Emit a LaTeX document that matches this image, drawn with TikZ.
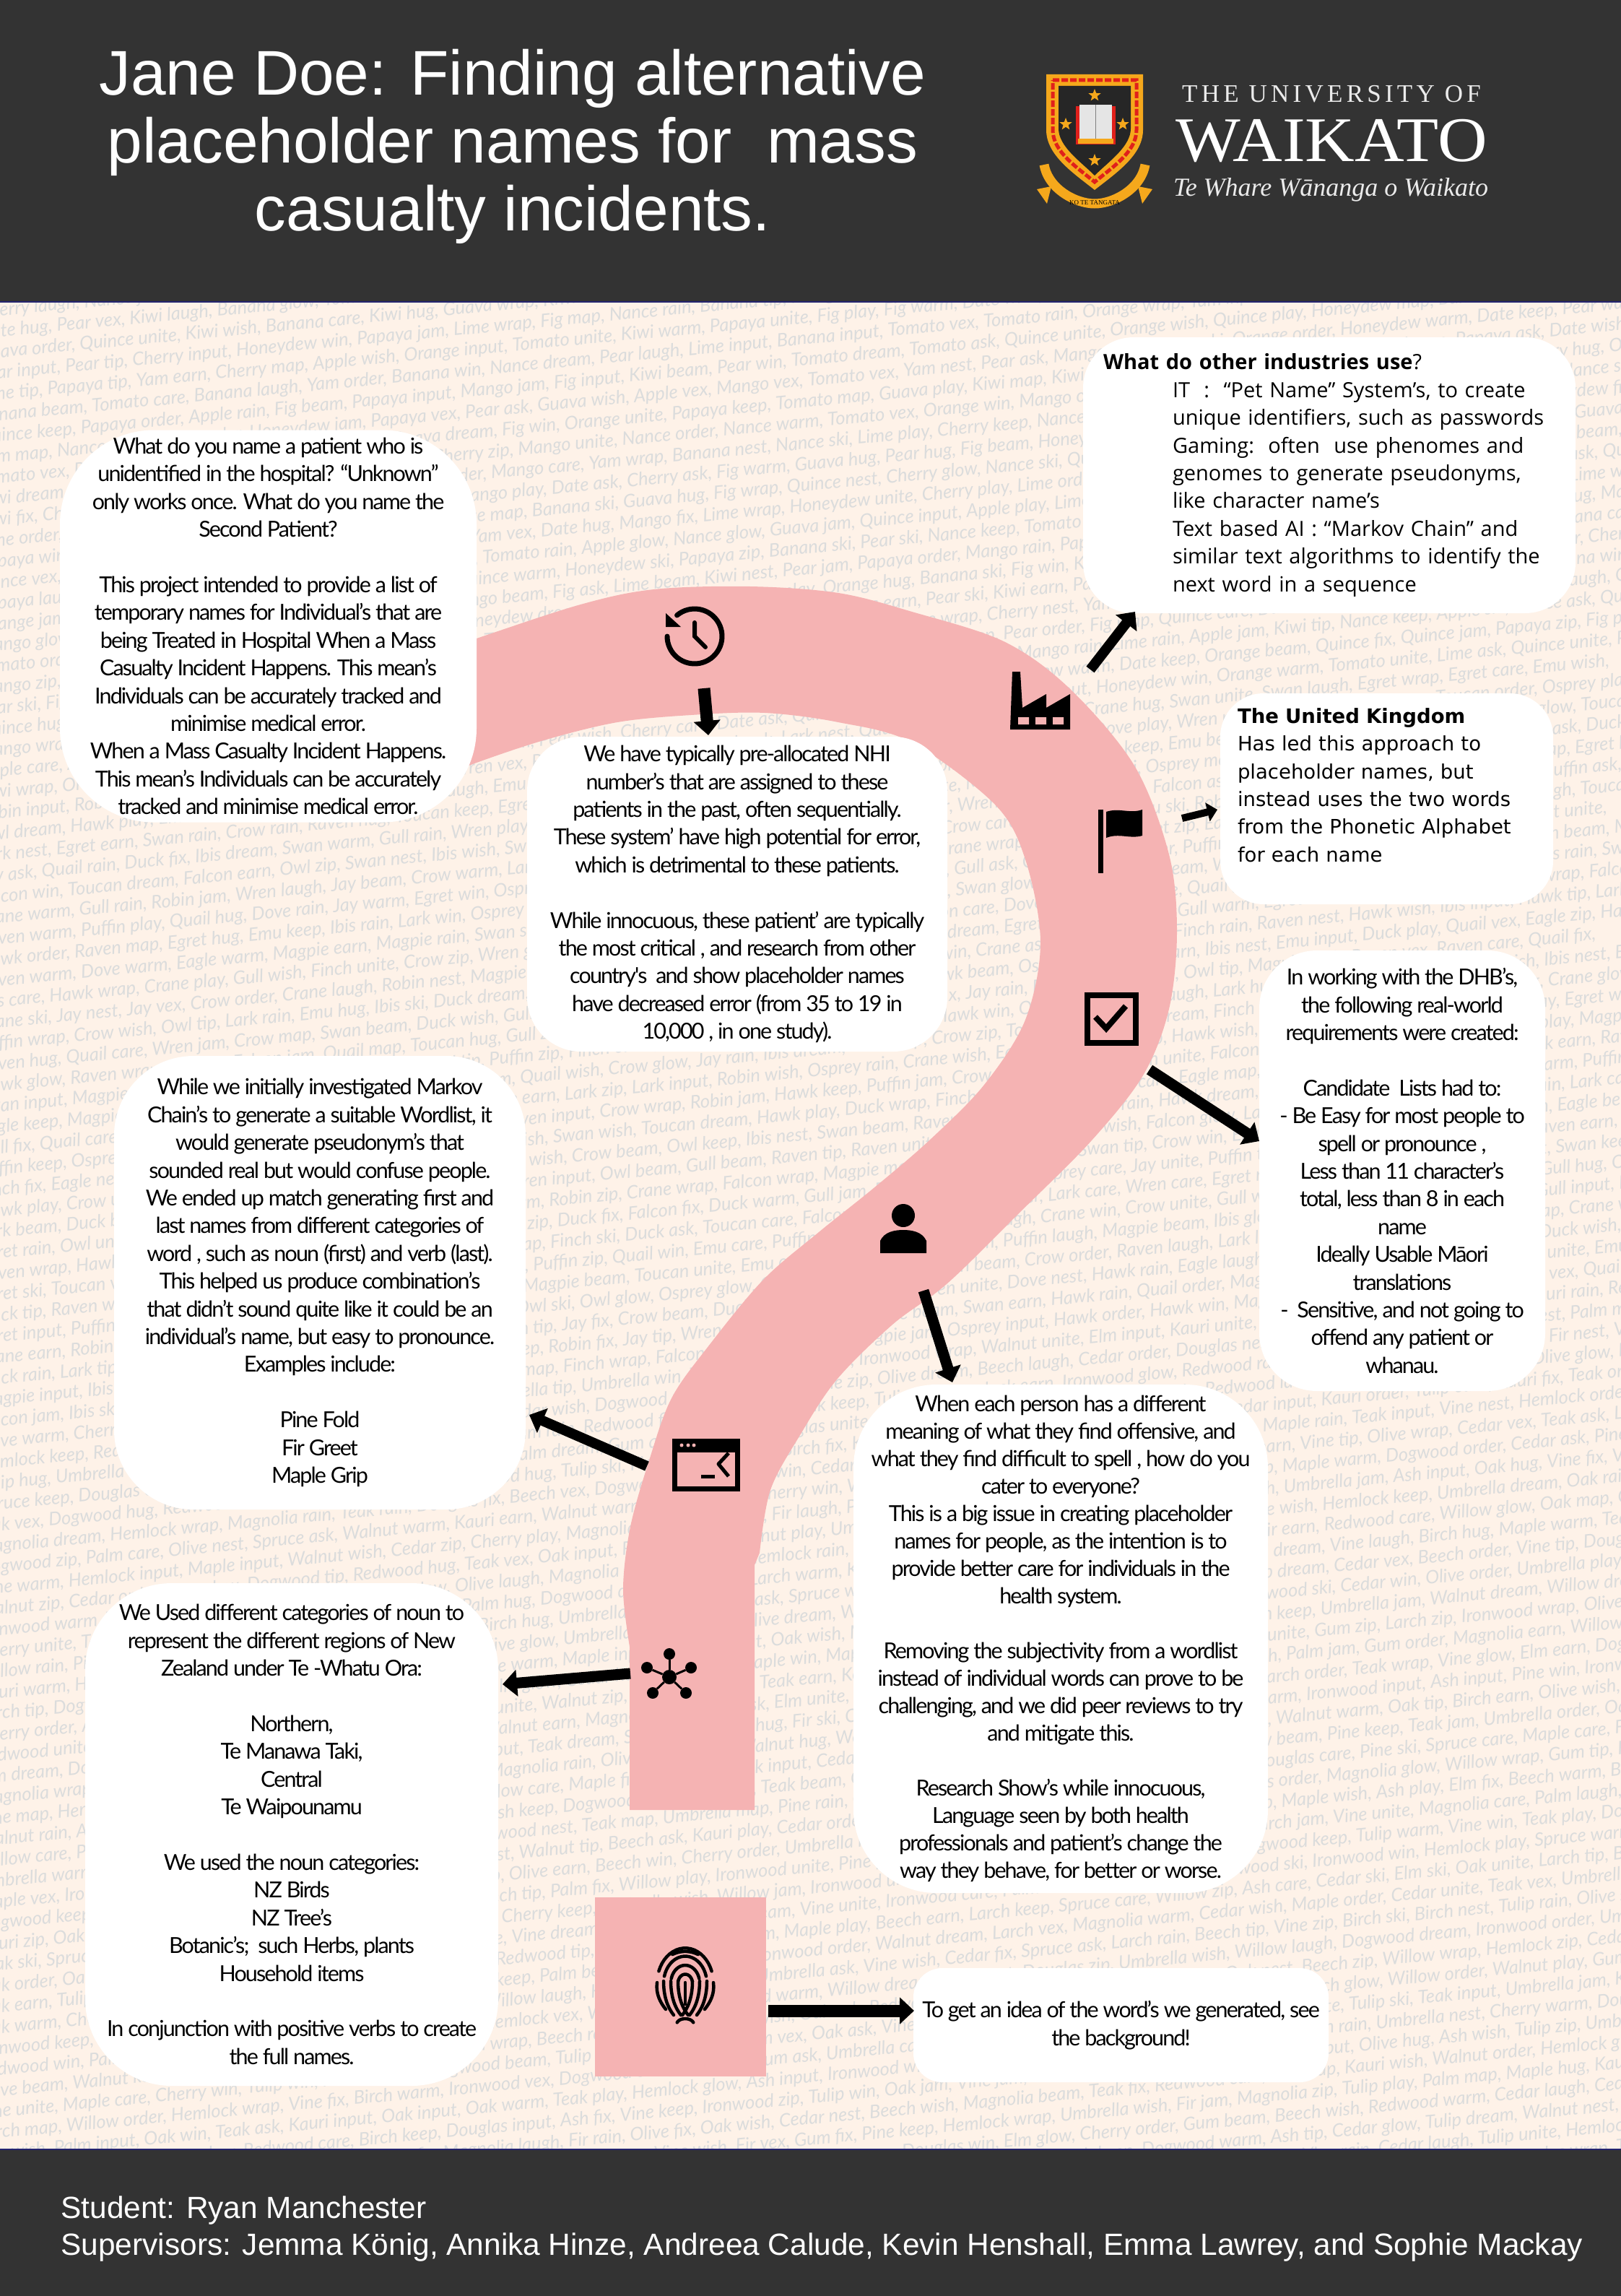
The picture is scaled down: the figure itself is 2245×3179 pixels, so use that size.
\documentclass[tikz,border=0pt]{standalone}
\usepackage{fontspec}
\usetikzlibrary{arrows.meta,shapes.geometric}
\setmainfont{Liberation Sans}
\newfontfamily\bgfont{Lato}
\newfontfamily\bodyfont[LetterSpace=-6.2]{Lato}
\newfontfamily\wideboxfont{Open Sans}
\newfontfamily\ukfont{DejaVu Sans}
\newfontfamily\logofont{Liberation Serif}
\newfontfamily\logospaced[LetterSpace=15]{Liberation Serif}
\definecolor{darkband}{HTML}{333333}
\definecolor{paper}{HTML}{FEF2E8}
\definecolor{namegrey}{HTML}{DBDCDC}
\definecolor{roadpink}{HTML}{F5B3B3}
\definecolor{crestgold}{HTML}{F5A81C}
\definecolor{crestred}{HTML}{E0201B}
\pgfmathdeclarerandomlist{fruit}{{Tomato}{Banana}{Kiwi}{Mango}{Orange}{Lime}{Quince}{Yam}{Fig}{Papaya}{Guava}{Nance}{Pear}{Apple}{Date}{Cherry}{Honeydew}}
\pgfmathdeclarerandomlist{birds}{{Crow}{Finch}{Hawk}{Robin}{Egret}{Dove}{Wren}{Eagle}{Emu}{Crane}{Jay}{Duck}{Quail}{Osprey}{Raven}{Toucan}{Owl}{Falcon}{Magpie}{Puffin}{Gull}{Ibis}{Swan}{Lark}}
\pgfmathdeclarerandomlist{trees}{{Kauri}{Olive}{Oak}{Ash}{Dogwood}{Redwood}{Cherry}{Walnut}{Teak}{Beech}{Spruce}{Hemlock}{Gum}{Ironwood}{Larch}{Maple}{Umbrella}{Vine}{Pine}{Birch}{Magnolia}{Tulip}{Willow}{Cedar}{Elm}{Fir}{Douglas}{Palm}}
\pgfmathdeclarerandomlist{verbs}{{warm}{dream}{wrap}{hug}{jam}{glow}{care}{order}{earn}{zip}{wish}{tip}{map}{laugh}{beam}{nest}{input}{vex}{ski}{keep}{rain}{play}{ask}{fix}{win}{unite}}
\newcommand{\namerow}[1]{\foreach \k in {1,...,20}{\pgfmathrandomitem{\wa}{#1}\pgfmathrandomitem{\wb}{verbs}\wa\ \wb,\ }}
\tikzset{
	bodytext/.style={font=\bodyfont\fontsize{30.5}{38.4}\selectfont},
	textbox/.style={fill=white,rounded corners=#1,inner sep=0pt,align=center,bodytext},
	namerowstyle/.style={anchor=west,rotate=5.4,inner sep=0pt,text=namegrey,font=\bgfont\itshape\fontsize{25.5}{25.5}\selectfont},
	bigarrow/.style={-{Triangle[length=20pt,width=36pt]},line width=#1,black},
	iconline/.style={line width=#1,black,line cap=round,line join=round},
	crestrest/.style={star,star points=5,star point ratio=2.4,fill=crestgold,inner sep=0pt,minimum size=18pt},
}
\begin{document}
\begin{tikzpicture}[x=1pt,y=-1pt]
	\useasboundingbox (0,0) rectangle (2245,3179);
	\fill[paper] (0,0) rectangle (2245,3179);
	% names in the background
	\pgfmathsetseed{11}
	\begin{scope}
		\clip (0,418) rectangle (2245,2976);
		\foreach \r in {0,...,95}{
			\ifnum\r<24 \def\kind{fruit}\else\ifnum\r<54 \def\kind{birds}\else\def\kind{trees}\fi\fi
			\node[namerowstyle] (row\r) at (-30,{433+29*\r}) {\namerow{\kind}};
		}
	\end{scope}
	\fill[darkband] (0,0) rectangle (2245,418);
	\fill[darkband] (0,2976) rectangle (2245,3179);
	\draw[line width=2pt,color=darkband!70!blue] (0,418) -- (2245,418);
	\draw[line width=2pt,color=darkband!70!blue] (0,2976) -- (2245,2976);
	% the road
	\fill[roadpink] plot[smooth,tension=.55] coordinates {(600,905) (660,884) (804,837) (906,816) (1039,812) (1161,821) (1263,847) (1390,888) (1481,953) (1571,1060) (1619,1183) (1630,1290) (1619,1397) (1583,1489) (1511,1580) (1411,1680) (1312,1777) (1236,1834) (1159,1910) (1108,1987) (1067,2063) (1052,2150)}
		-- (1045,2167) -- (1045,2506) -- (872,2506) -- (872,2280)
		-- plot[smooth,tension=.55] coordinates {(872,2280) (863,2200) (873,2114) (899,2022) (930,1936) (981,1864) (1057,1772) (1134,1706) (1210,1645) (1287,1579) (1363,1502) (1420,1412) (1441,1305) (1420,1190) (1378,1114) (1263,1028) (1161,1000) (1059,987) (957,990) (855,1000) (753,1025) (660,1056) (600,1080)}
		-- cycle;
	\fill[roadpink] (824,2627) rectangle (1061,2875);
	% title
	\node[text=white,align=center,font=\fontsize{87.4}{94}\selectfont] (title) at (710,203) {Jane Doe: Finding alternative\\placeholder names for\ \ mass\\casualty incidents.};
	\node[text=white,align=left,anchor=west,font=\fontsize{42.4}{51}\selectfont] (credits) at (81,3086) {Student: Ryan Manchester\\Supervisors: Jemma König, Annika Hinze, Andreea Calude, Kevin Henshall, Emma Lawrey, and Sophie Mackay};
	% crest
	\fill[crestgold] (1449,103) -- (1583,103) -- (1583,180) .. controls (1583,215) and (1545,240) .. (1516,263) .. controls (1487,240) and (1449,215) .. (1449,180) -- cycle;
	\draw[crestred,line width=5pt,dash pattern=on 9pt off 3pt] (1458,111) -- (1574,111) -- (1574,180) .. controls (1574,210) and (1540,232) .. (1516,252) .. controls (1492,232) and (1458,210) .. (1458,180) -- cycle;
	\fill[black!85] (1466,119) -- (1566,119) -- (1566,178) .. controls (1566,203) and (1535,224) .. (1516,243) .. controls (1497,224) and (1466,203) .. (1466,178) -- cycle;
	\draw[crestgold,line width=13pt] (1446,228) .. controls (1452,262) and (1490,282) .. (1516,282) .. controls (1542,282) and (1580,262) .. (1586,228);
	\fill[crestgold] (1436,262) -- (1456,258) -- (1450,282) -- cycle;
	\fill[crestgold] (1596,262) -- (1576,258) -- (1582,282) -- cycle;
	\node[crestrest] (star1) at (1516,132) {};
	\node[crestrest] (star2) at (1476,172) {};
	\node[crestrest] (star3) at (1555,172) {};
	\node[crestrest] (star4) at (1516,222) {};
	\fill[crestred] (1490,147) rectangle (1545,200);
	\fill[white!90!black] (1495,145) rectangle (1540,192);
	\fill[crestgold] (1493,192) rectangle (1542,199);
	\draw[black!50,line width=1pt] (1517.5,145) -- (1517.5,192);
	\node[font=\logofont\fontsize{9}{9}\selectfont,text=black] (motto) at (1516,281) {KO TE TANGATA};
	\node[text=white!92!black,font=\logospaced\fontsize{35}{35}\selectfont] (uni1) at (1844,130) {THE UNIVERSITY OF};
	\node[text=white,xscale=1.08,transform shape,font=\logofont\fontsize{88}{88}\selectfont] (uni2) at (1844,195) {WAIKATO};
	\node[text=white!92!black,font=\logofont\itshape\fontsize{36}{36}\selectfont] (uni3) at (1843,263) {Te Whare Wānanga o Waikato};
	% boxes
	\node[textbox=130pt,minimum width=577pt,minimum height=543pt] (patient) at (371.5,867) {What do you name a patient who is\\unidentified in the hospital? “Unknown”\\only works once. What do you name the\\Second Patient?\\~\\This project intended to provide a list of\\temporary names for Individual’s that are\\being Treated in Hospital When a Mass\\Casualty Incident Happens. This mean’s\\Individuals can be accurately tracked and\\minimise medical error.\\When a Mass Casualty Incident Happens.\\This mean’s Individuals can be accurately\\tracked and minimise medical error.};
	\node[textbox=75pt,minimum width=582pt,minimum height=436pt] (nhi) at (1021,1238) {We have typically pre-allocated NHI\\number’s that are assigned to these\\patients in the past, often sequentially.\\These system’ have high potential for error,\\which is detrimental to these patients.\\~\\While innocuous, these patient’ are typically\\the most critical , and research from other\\country's\ \ and show placeholder names\\have decreased error (from 35 to 19 in\\10,000 , in one study).};
	\node[textbox=70pt,text width=626pt,inner xsep=28pt,minimum height=382pt,align=left,font=\wideboxfont\fontsize{29}{38.4}\selectfont] (industry) at (1841,658) {\textbf{What do other industries use}?\\\hspace*{96pt}IT\ \ :\ \ “Pet Name” System’s, to create\\\hspace*{96pt}unique identifiers, such as passwords\\\hspace*{96pt}Gaming:\ \ often\ \ use phenomes and\\\hspace*{96pt}genomes to generate pseudonyms,\\\hspace*{96pt}like character name’s\\\hspace*{96pt}Text based AI : “Markov Chain” and\\\hspace*{96pt}similar text algorithms to identify the\\\hspace*{96pt}next word in a sequence};
	\node[textbox=60pt,text width=413pt,inner xsep=24pt,minimum height=292pt,align=left,font=\ukfont\fontsize{27.5}{38.4}\selectfont] (uk) at (1920.5,1106) {\textbf{The United Kingdom}\\Has led this approach to\\placeholder names, but\\instead uses the two words\\from the Phonetic Alphabet\\for each name\\~};
	\node[textbox=80pt,minimum width=396pt,minimum height=610pt] (needs) at (1942,1621) {In working with the DHB’s,\\the following real-world\\requirements were created:\\~\\Candidate\ \ Lists had to:\\- Be Easy for most people to\\spell or pronounce ,\\Less than 11 character’s\\total, less than 8 in each\\name\\Ideally Usable Māori\\translations\\-\ \ Sensitive, and not going to\\offend any patient or\\whanau.};
	\node[textbox=110pt,minimum width=570pt,minimum height=628pt] (markov) at (443,1776) {While we initially investigated Markov\\Chain’s to generate a suitable Wordlist, it\\would generate pseudonym’s that\\sounded real but would confuse people.\\We ended up match generating first and\\last names from different categories of\\word , such as noun (first) and verb (last).\\This helped us produce combination’s\\that didn’t sound quite like it could be an\\individual’s name, but easy to pronounce.\\Examples include:\\~\\Pine Fold\\Fir Greet\\Maple Grip};
	\node[textbox=115pt,minimum width=574pt,minimum height=704pt,font=\bodyfont\fontsize{30.5}{38}\selectfont] (offence) at (1469,2269) {When each person has a different\\meaning of what they find offensive, and\\what they find difficult to spell , how do you\\cater to everyone?\\This is a big issue in creating placeholder\\names for people, as the intention is to\\provide better care for individuals in the\\health system.\\~\\Removing the subjectivity from a wordlist\\instead of individual words can prove to be\\challenging, and we did peer reviews to try\\and mitigate this.\\~\\Research Show’s while innocuous,\\Language seen by both health\\professionals and patient’s change the\\way they behave, for better or worse.};
	\node[textbox=120pt,minimum width=572pt,minimum height=696pt] (regions) at (404,2540) {We Used different categories of noun to\\represent the different regions of New\\Zealand under Te -Whatu Ora:\\~\\Northern,\\Te Manawa Taki,\\Central\\Te Waipounamu\\~\\We used the noun categories:\\NZ Birds\\NZ Tree’s\\Botanic’s;\ \ such Herbs, plants\\Household items\\~\\In conjunction with positive verbs to create\\the full names.};
	\node[textbox=40pt,minimum width=575pt,minimum height=158pt] (seeback) at (1552.5,2804) {To get an idea of the word’s we generated, see\\the background!};
	% icons on the road
	\draw[iconline=7pt] plot[domain=-130:180,samples=50] ({962+38*cos(\x)},{881+38*sin(\x)});
	\fill[black] (922,849) -- (922,868) -- (943,868) -- cycle;
	\draw[iconline=6pt,line join=miter] (962,862) -- (962,881) -- (977,896);
	\fill[black] (1402,930) -- (1413,930) -- (1416,980) -- (1449,961) -- (1449,980) -- (1482,961) -- (1482,1010) -- (1399,1010) -- cycle;
	\fill[roadpink] (1410,993) rectangle (1425,1003) (1434,993) rectangle (1449,1003) (1458,993) rectangle (1473,1003);
	\fill[black] (1521,1121) rectangle (1528,1209);
	\fill[black] (1532,1124) .. controls (1550,1118) and (1565,1127) .. (1582,1121) -- (1582,1157) .. controls (1565,1162) and (1550,1153) .. (1532,1160) -- cycle;
	\draw[line width=8pt,black] (1506,1378) rectangle (1573,1444);
	\draw[iconline=8pt,line cap=butt,line join=miter] (1517,1408) -- (1532,1424) -- (1559,1393);
	\fill[black] (1251,1683) circle[radius=16];
	\fill[black] (1219,1735) -- (1219,1718) .. controls (1225,1705) and (1240,1703) .. (1251,1703) .. controls (1262,1703) and (1277,1705) .. (1283,1718) -- (1283,1735) -- cycle;
	\draw[line width=7pt,black] (934.5,1995.5) rectangle (1021.5,2061.5);
	\fill[black] (931,1992) rectangle (1025,2011);
	\fill[roadpink] (944,2001) circle[radius=2.5] (953,2001) circle[radius=2.5] (961,2001) circle[radius=2.5];
	\draw[iconline=5pt,line cap=butt] (1009,2012) -- (995,2027) -- (1009,2044);
	\draw[iconline=5pt,line cap=butt] (971,2044) -- (990,2044);
	\node[circle,fill,inner sep=0pt,minimum size=20pt] (hub) at (927,2322) {};
	\foreach \p/\q [count=\n] in {927/2290,957/2309,950/2344,904/2344,896/2309}{
		\node[circle,fill,inner sep=0pt,minimum size=16pt] (spoke\n) at (\p,\q) {};
		\draw[line width=3pt] (hub) -- (spoke\n);
	}
	% fingerprint
	\foreach \rr in {10,20,30}{
		\draw[iconline=4.5pt] plot[domain=195:345,samples=20] ({949+\rr*cos(\x)},{2746+1.25*\rr*sin(\x)});
		\draw[iconline=4.5pt] ({949-\rr},2743) .. controls ({949-\rr},2765) and ({949-\rr+6},2780) .. ({949-\rr+14},2790);
		\draw[iconline=4.5pt] ({949+\rr},2743) .. controls ({949+\rr},2765) and ({949+\rr-6},2780) .. ({949+\rr-14},2790);
	}
	\draw[iconline=4.5pt] plot[domain=200:340,samples=20] ({949+39*cos(\x)},{2746+1.25*39*sin(\x)});
	\draw[iconline=4.5pt] plot[domain=245:295,samples=10] ({949+42*cos(\x)},{2746+1.05*42*sin(\x)});
	\draw[iconline=4.5pt] (949,2745) -- (949,2775);
	\draw[iconline=4.5pt] (910,2745) .. controls (908,2760) and (914,2772) .. (922,2782);
	\draw[iconline=4.5pt] (988,2745) .. controls (990,2760) and (984,2772) .. (976,2782);
	\draw[iconline=4.5pt] plot[domain=200:340,samples=12] ({949+12*cos(\x)},{2803+8*sin(\x)});
	% arrows
	\coordinate (clockout) at (975,953);
	\coordinate (clocktip) at (981,1018);
	\coordinate (factoryout) at (1510,927);
	\coordinate (factorytip) at (1572,847);
	\coordinate (flagout) at (1637,1133);
	\coordinate (flagtip) at (1686,1121);
	\coordinate (checkout) at (1592,1481);
	\coordinate (checktip) at (1744,1580);
	\coordinate (personout) at (1279,1787);
	\coordinate (persontip) at (1319,1914);
	\coordinate (termout) at (896,2030);
	\coordinate (termtip) at (733,1959);
	\coordinate (hubout) at (873,2317);
	\coordinate (hubtip) at (696,2332);
	\coordinate (printout) at (1064,2784);
	\coordinate (printtip) at (1266,2784);
	\draw[bigarrow=17pt] (clockout) -- (clocktip);
	\draw[bigarrow=14pt] (factoryout) -- (factorytip);
	\draw[bigarrow=10pt,-{Triangle[length=14pt,width=26pt]}] (flagout) -- (flagtip);
	\draw[bigarrow=15pt] (checkout) -- (checktip);
	\draw[bigarrow=15pt] (personout) -- (persontip);
	\draw[bigarrow=14pt] (termout) -- (termtip);
	\draw[bigarrow=15pt] (hubout) -- (hubtip);
	\draw[bigarrow=17pt] (printout) -- (printtip);
\end{tikzpicture}
\end{document}
